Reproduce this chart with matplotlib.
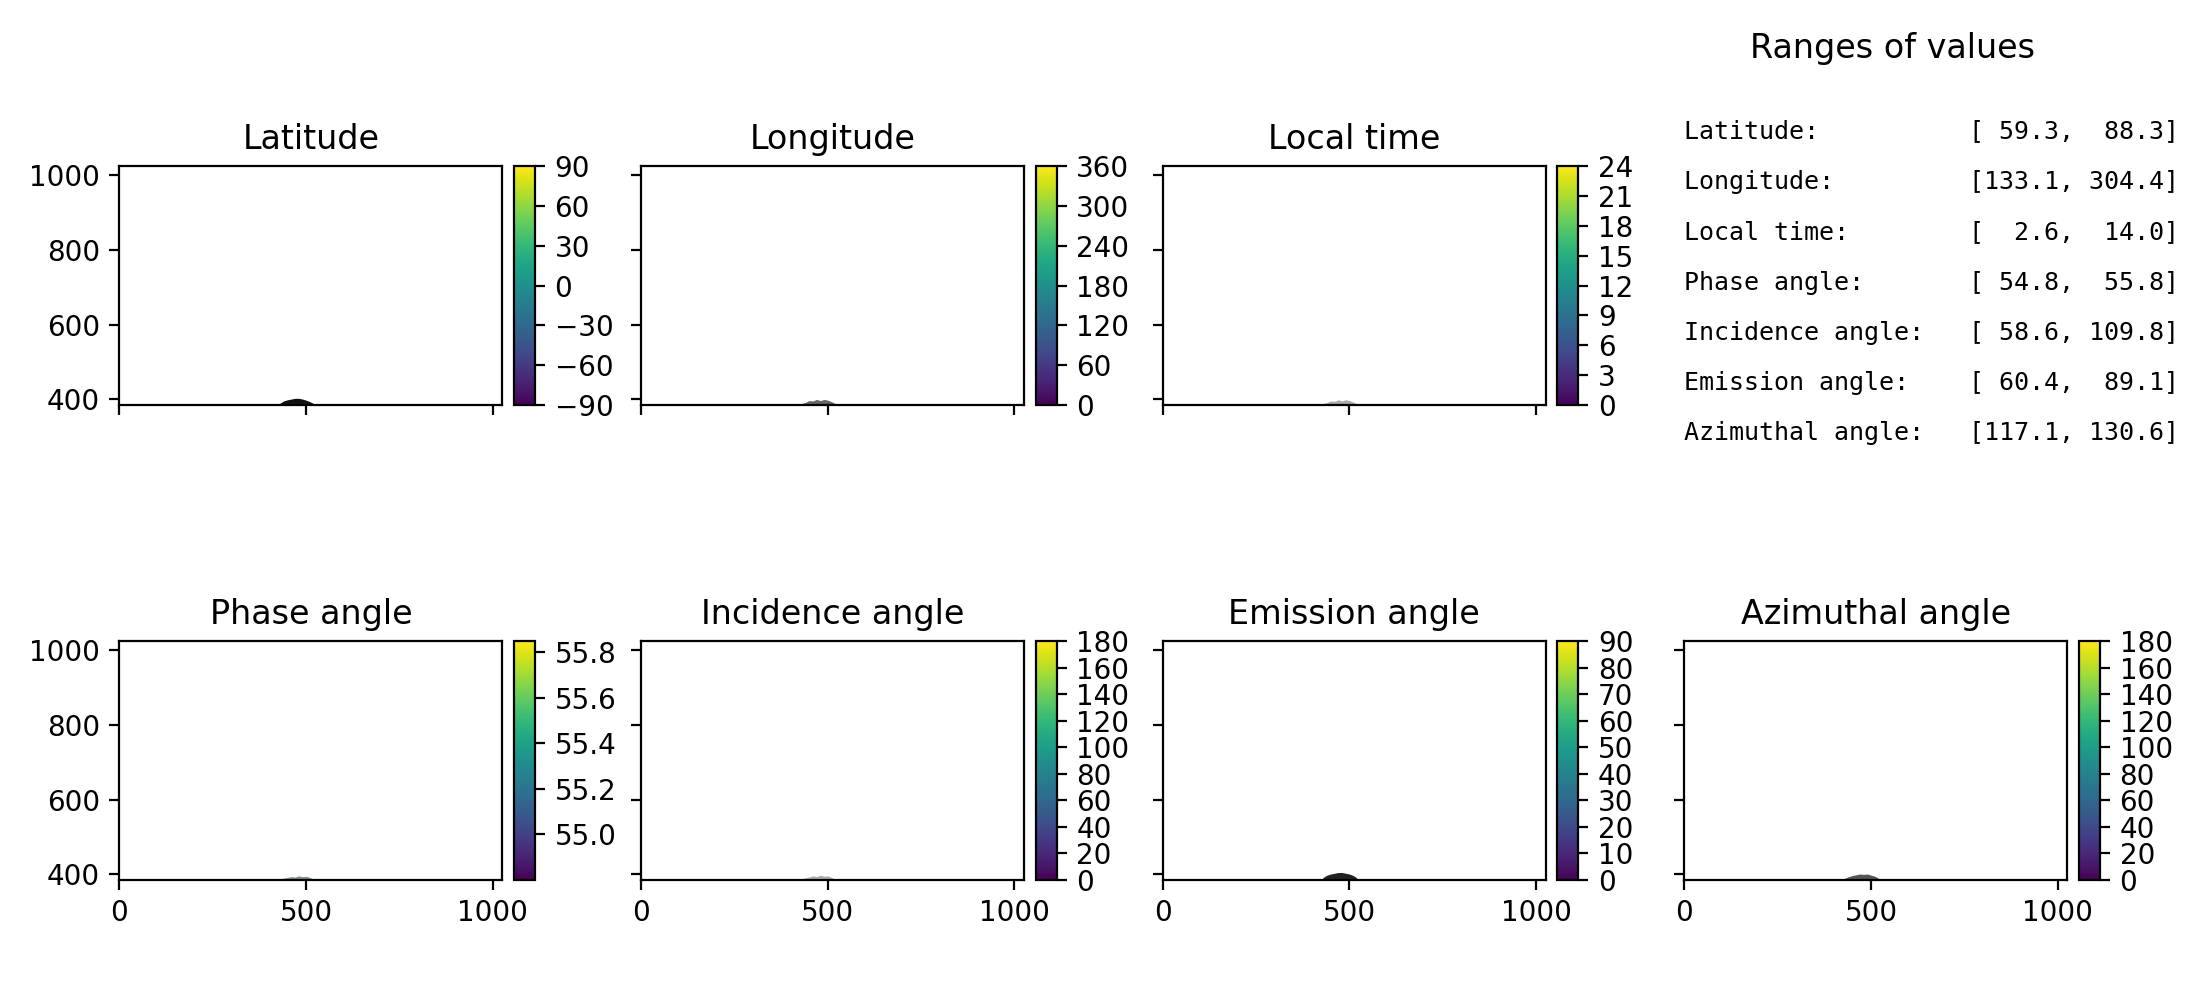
import matplotlib
matplotlib.use('Agg')
import matplotlib.pyplot as plt
from mpl_toolkits.axes_grid1 import make_axes_locatable

titles = ['Latitude', 'Longitude', 'Local time', 'Phase angle',
          'Incidence angle', 'Emission angle', 'Azimuthal angle']

range_labels = ['Latitude:', 'Longitude:', 'Local time:', 'Phase angle:',
                'Incidence angle:', 'Emission angle:', 'Azimuthal angle:']
range_low = [59.3, 133.1, 2.6, 54.8, 58.6, 60.4, 117.1]
range_high = [88.3, 304.4, 14.0, 55.8, 109.8, 89.1, 130.6]

# colorbar limits and ticks
cbar_low = [-90, 0, 0, 54.8, 0, 0, 0]
cbar_high = [90, 360, 24, 55.85, 180, 90, 180]
cbar_ticks = [
    [-90, -60, -30, 0, 30, 60, 90],
    [0, 60, 120, 180, 240, 300, 360],
    [0, 3, 6, 9, 12, 15, 18, 21, 24],
    [55.0, 55.2, 55.4, 55.6, 55.8],
    [0, 20, 40, 60, 80, 100, 120, 140, 160, 180],
    [0, 10, 20, 30, 40, 50, 60, 70, 80, 90],
    [0, 20, 40, 60, 80, 100, 120, 140, 160, 180],
]

# the limb visible at the bottom of each panel
limb_x = [424, 430, 440, 450, 460, 470, 480, 490, 500, 510, 518, 524]
limb_top = [
    [385, 390, 396, 399, 401, 403, 403, 401, 398, 394, 390, 385],
    [385, 389, 392, 397, 396, 400, 397, 400, 398, 394, 390, 385],
    [385, 389, 392, 396, 395, 399, 396, 399, 397, 393, 389, 385],
    [385, 388, 390, 392, 394, 393, 396, 394, 395, 392, 388, 385],
    [385, 388, 391, 393, 396, 394, 398, 395, 396, 392, 388, 385],
    [385, 392, 398, 401, 403, 405, 405, 403, 401, 397, 392, 385],
    [385, 390, 394, 397, 399, 401, 400, 401, 398, 395, 391, 385],
]
limb_color = ['#111111', '#666666', '#aaaaaa', '#7f8f8c',
              '#aaaaaa', '#222222', '#555555']

xticks = [0, 500, 1000]
yticks = [400, 600, 800, 1000]

fig, axes = plt.subplots(2, 4, figsize=(11, 5), dpi=200, sharex=True, sharey=True)
fig.subplots_adjust(left=0.0543, right=0.9546, top=0.834, bottom=0.12,
                    wspace=0.255, hspace=0.987)

panels = [axes[0, 0], axes[0, 1], axes[0, 2], axes[1, 0],
          axes[1, 1], axes[1, 2], axes[1, 3]]

for i, ax in enumerate(panels):
    ax.fill_between(limb_x, 385, limb_top[i], color=limb_color[i], lw=0)
    ax.set_xlim(0, 1026)
    ax.set_ylim(385, 1024)
    ax.set_xticks(xticks)
    ax.set_yticks(yticks)
    ax.set_title(titles[i], fontsize=12, pad=6)

    divider = make_axes_locatable(ax)
    cax = divider.append_axes('right', size='5.5%', pad=0.058)
    sm = plt.cm.ScalarMappable(cmap='viridis',
                               norm=plt.Normalize(cbar_low[i], cbar_high[i]))
    cb = fig.colorbar(sm, cax=cax, ticks=cbar_ticks[i])
    cb.ax.tick_params(labelsize=10)

# text panel
info = axes[0, 3]
info.axis('off')
info.set_title('Ranges of values', fontsize=12, pad=39)
for i in range(len(range_labels)):
    line = '%-19s[%5.1f, %5.1f]' % (range_labels[i], range_low[i], range_high[i])
    info.text(0, 1.144 - i * 0.2105, line, family='monospace', fontsize=9,
              va='center', ha='left', transform=info.transAxes, clip_on=False)

fig.savefig('out.png', dpi=200)
